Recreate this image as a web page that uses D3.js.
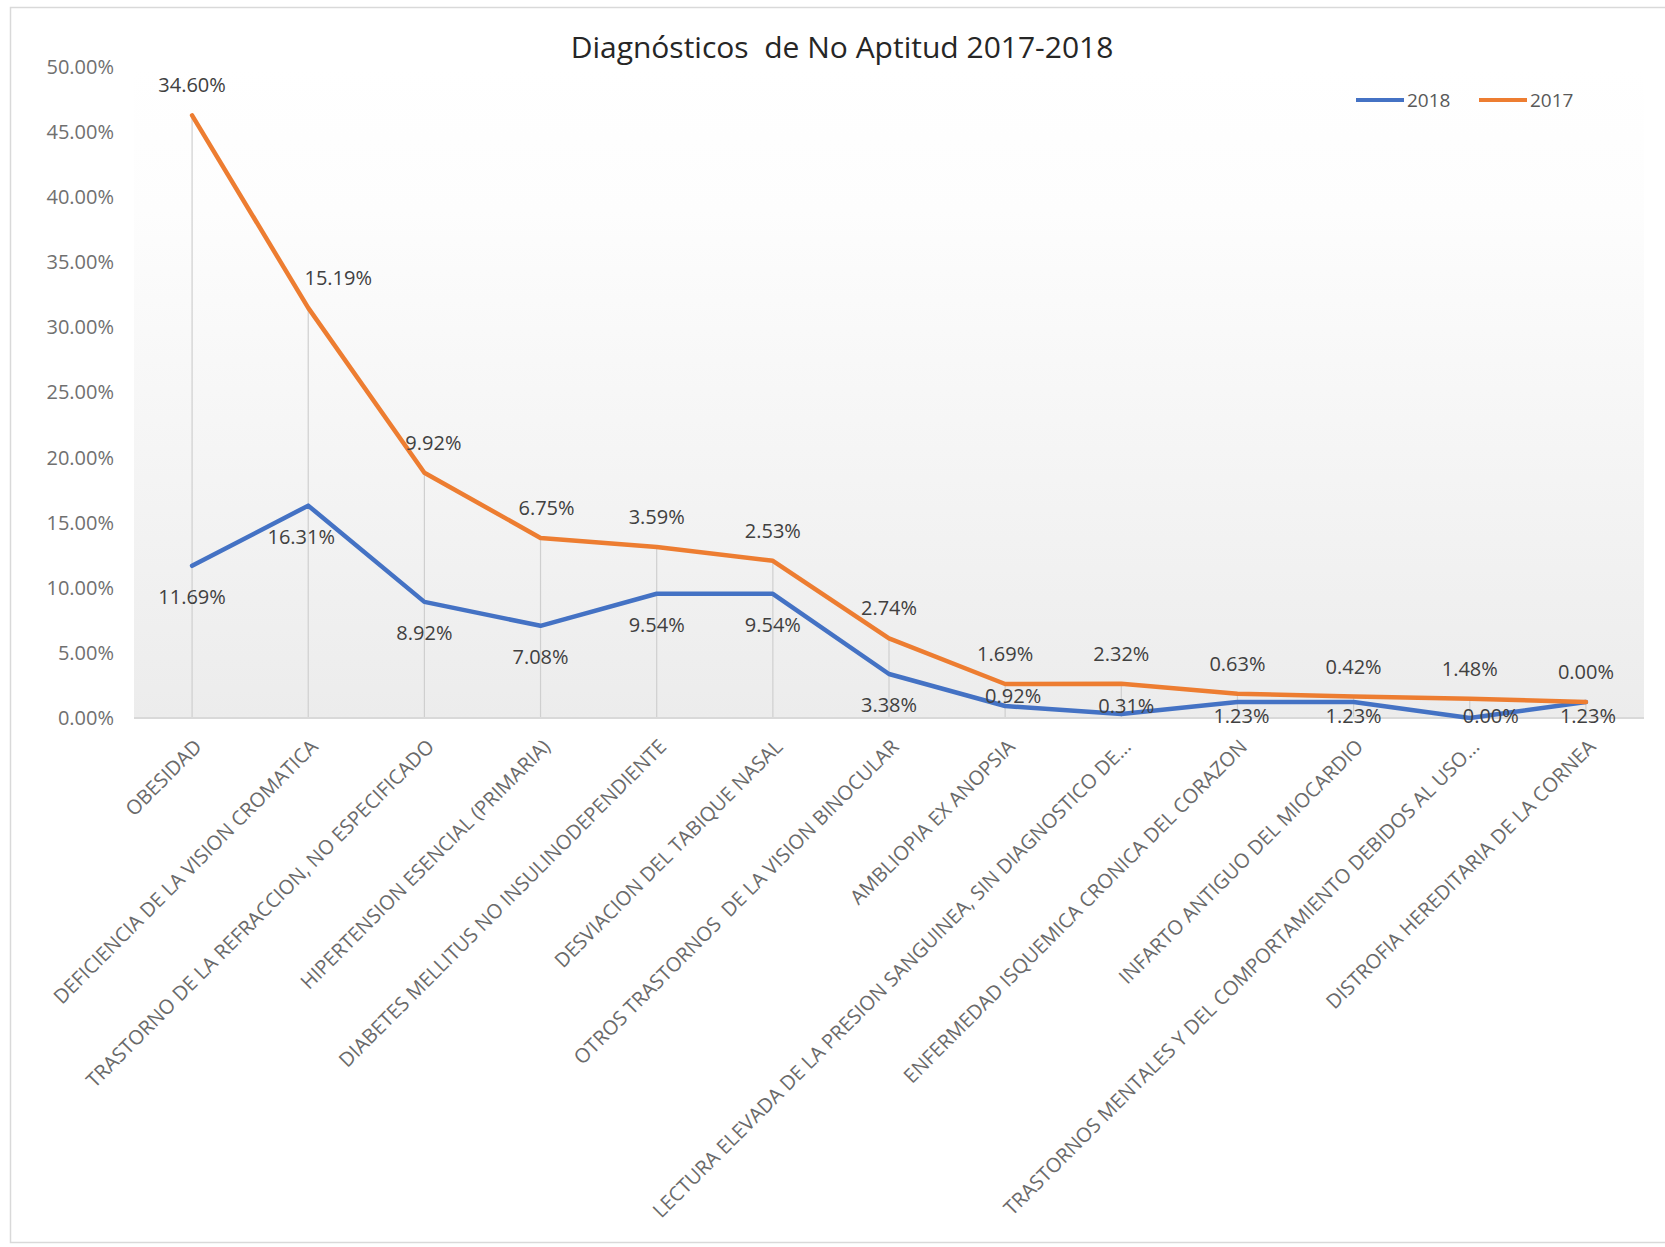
<!DOCTYPE html>
<html>
<head>
<meta charset="utf-8">
<script src="https://cdn.jsdelivr.net/npm/d3@7"></script>
<style>
  html, body { margin: 0; padding: 0; background: #fff; }
  svg { display: block; }
  text { font-family: "Open Sans", sans-serif; }
</style>
</head>
<body>
<svg id="chart" width="1665" height="1247"></svg>
<script>
// ---- data ----
const categories = [
  "OBESIDAD",
  "DEFICIENCIA DE LA VISION CROMATICA",
  "TRASTORNO DE LA REFRACCION, NO ESPECIFICADO",
  "HIPERTENSION ESENCIAL (PRIMARIA)",
  "DIABETES MELLITUS NO INSULINODEPENDIENTE",
  "DESVIACION DEL TABIQUE NASAL",
  "OTROS TRASTORNOS  DE LA VISION BINOCULAR",
  "AMBLIOPIA EX ANOPSIA",
  "LECTURA ELEVADA DE LA PRESION SANGUINEA, SIN DIAGNOSTICO DE...",
  "ENFERMEDAD ISQUEMICA CRONICA DEL CORAZON",
  "INFARTO ANTIGUO DEL MIOCARDIO",
  "TRASTORNOS MENTALES Y DEL COMPORTAMIENTO DEBIDOS AL USO...",
  "DISTROFIA HEREDITARIA DE LA CORNEA"
];
const seriesNames = ["2018", "2017"];
const values2018 = [0.1169, 0.1631, 0.0892, 0.0708, 0.0954, 0.0954, 0.0338, 0.0092, 0.0031, 0.0123, 0.0123, 0.0000, 0.0123];
const values2017 = [0.3460, 0.1519, 0.0992, 0.0675, 0.0359, 0.0253, 0.0274, 0.0169, 0.0232, 0.0063, 0.0042, 0.0148, 0.0000];
const yTicks = [0, 0.05, 0.10, 0.15, 0.20, 0.25, 0.30, 0.35, 0.40, 0.45, 0.50];
const titleText = "Diagnósticos  de No Aptitud 2017-2018";

// ---- layout ----
const W = 1665, H = 1247;
const plot = { left: 134, right: 1644, top: 67, bottom: 718 };
const colors = { "2018": "#4472C4", "2017": "#ED7D31" };
// small manual label nudges (pixels), as in the original chart
const labelNudge = {
  "2017": { 1: [30, 0], 2: [9, 0], 3: [6, 0] },
  "2018": { 1: [-7, 0], 7: [8, -20], 8: [5, -10], 9: [4, 0], 11: [21, 0], 12: [2, 0] }
};

const svg = d3.select("#chart");

// frame
svg.append("rect")
  .attr("x", 10.5).attr("y", 7.5)
  .attr("width", W).attr("height", 1235)
  .attr("fill", "#fff").attr("stroke", "#d9d9d9").attr("stroke-width", 1.5);

// background gradient for plot area
const defs = svg.append("defs");
const grad = defs.append("linearGradient").attr("id", "bg")
  .attr("x1", 0).attr("y1", 0).attr("x2", 0).attr("y2", 1);
grad.append("stop").attr("offset", "0%").attr("stop-color", "#ffffff");
grad.append("stop").attr("offset", "22%").attr("stop-color", "#fdfdfd");
grad.append("stop").attr("offset", "100%").attr("stop-color", "#ececec");

svg.append("rect")
  .attr("x", plot.left).attr("y", plot.top)
  .attr("width", plot.right - plot.left).attr("height", plot.bottom - plot.top)
  .attr("fill", "url(#bg)");

// scales
const x = d3.scaleBand().domain(categories).range([plot.left, plot.right]).padding(0);
const cx = c => x(c) + x.bandwidth() / 2;
const y = d3.scaleLinear().domain([0, 0.5]).range([plot.bottom, plot.top]);

// stacked data
const table = categories.map((c, i) => ({ cat: c, "2018": values2018[i], "2017": values2017[i] }));
const stacked = d3.stack().keys(seriesNames)(table);

// y axis
const yAxis = d3.axisLeft(y).tickValues(yTicks).tickFormat(d3.format(".2%")).tickSize(0).tickPadding(0);
const yg = svg.append("g").attr("transform", `translate(${114},0)`).call(yAxis);
yg.select(".domain").remove();
yg.selectAll("text")
  .attr("fill", "#707070")
  .style("font-size", "20px")
  .style("font-family", "'Open Sans', sans-serif");

// drop lines (from top of stack to axis)
const topSeries = stacked[stacked.length - 1];
svg.append("g").selectAll("line")
  .data(topSeries)
  .join("line")
  .attr("x1", d => cx(d.data.cat)).attr("x2", d => cx(d.data.cat))
  .attr("y1", d => y(d[1])).attr("y2", y(0))
  .attr("stroke", "#cfcfcf").attr("stroke-width", 1.2);

// x axis line
svg.append("line")
  .attr("x1", plot.left).attr("x2", plot.right)
  .attr("y1", y(0)).attr("y2", y(0))
  .attr("stroke", "#d9d9d9").attr("stroke-width", 2);

// x axis labels
const xAxis = d3.axisBottom(x).tickSize(0).tickPadding(0);
const xg = svg.append("g").attr("transform", `translate(0,${plot.bottom})`).call(xAxis);
xg.select(".domain").remove();
xg.selectAll(".tick text")
  .attr("xml:space", "preserve")
  .style("white-space", "pre")
  .attr("fill", "#6a6a6a")
  .style("font-size", "20px")
  .style("font-family", "'Open Sans', sans-serif")
  .attr("text-anchor", "end")
  .attr("dy", null).attr("y", null)
  .attr("transform", "translate(11,30) rotate(-45)");

// lines
const line = d3.line()
  .x(d => cx(d.data.cat))
  .y(d => y(d[1]));

svg.append("g").selectAll("path")
  .data(stacked)
  .join("path")
  .attr("d", line)
  .attr("fill", "none")
  .attr("stroke", d => colors[d.key])
  .attr("stroke-width", 4.5)
  .attr("stroke-linejoin", "round")
  .attr("stroke-linecap", "round");

// data labels
const fmt = d3.format(".2%");
const labG = svg.append("g")
  .style("font-size", "20px")
  .attr("fill", "#404040")
  .attr("text-anchor", "middle");

stacked.forEach(s => {
  const above = s.key === "2017";
  const nudge = labelNudge[s.key] || {};
  labG.append("g").selectAll("text")
    .data(s)
    .join("text")
    .attr("x", (d, i) => cx(d.data.cat) + (nudge[i] ? nudge[i][0] : 0))
    .attr("y", (d, i) => {
      let ly = y(d[1]) + (above ? -30 : 31);
      if (!above) ly = Math.min(ly, y(0) - 2);
      return ly + (nudge[i] ? nudge[i][1] : 0);
    })
    .attr("dy", "0.35em")
    .text(d => fmt(d.data[s.key]));
});

// title
svg.append("text")
  .attr("x", 842).attr("y", 58)
  .attr("text-anchor", "middle")
  .attr("xml:space", "preserve")
  .style("white-space", "pre")
  .style("font-size", "30px")
  .attr("fill", "#262626")
  .text(titleText);

// legend
const legendX = [1356, 1479];
const lg = svg.append("g");
seriesNames.forEach((k, i) => {
  lg.append("line")
    .attr("x1", legendX[i]).attr("x2", legendX[i] + 48)
    .attr("y1", 100).attr("y2", 100)
    .attr("stroke", colors[k]).attr("stroke-width", 4);
  lg.append("text")
    .attr("x", legendX[i] + 51).attr("y", 100)
    .attr("dy", "0.35em")
    .style("font-size", "19px")
    .attr("fill", "#595959")
    .text(k);
});
</script>
</body>
</html>
